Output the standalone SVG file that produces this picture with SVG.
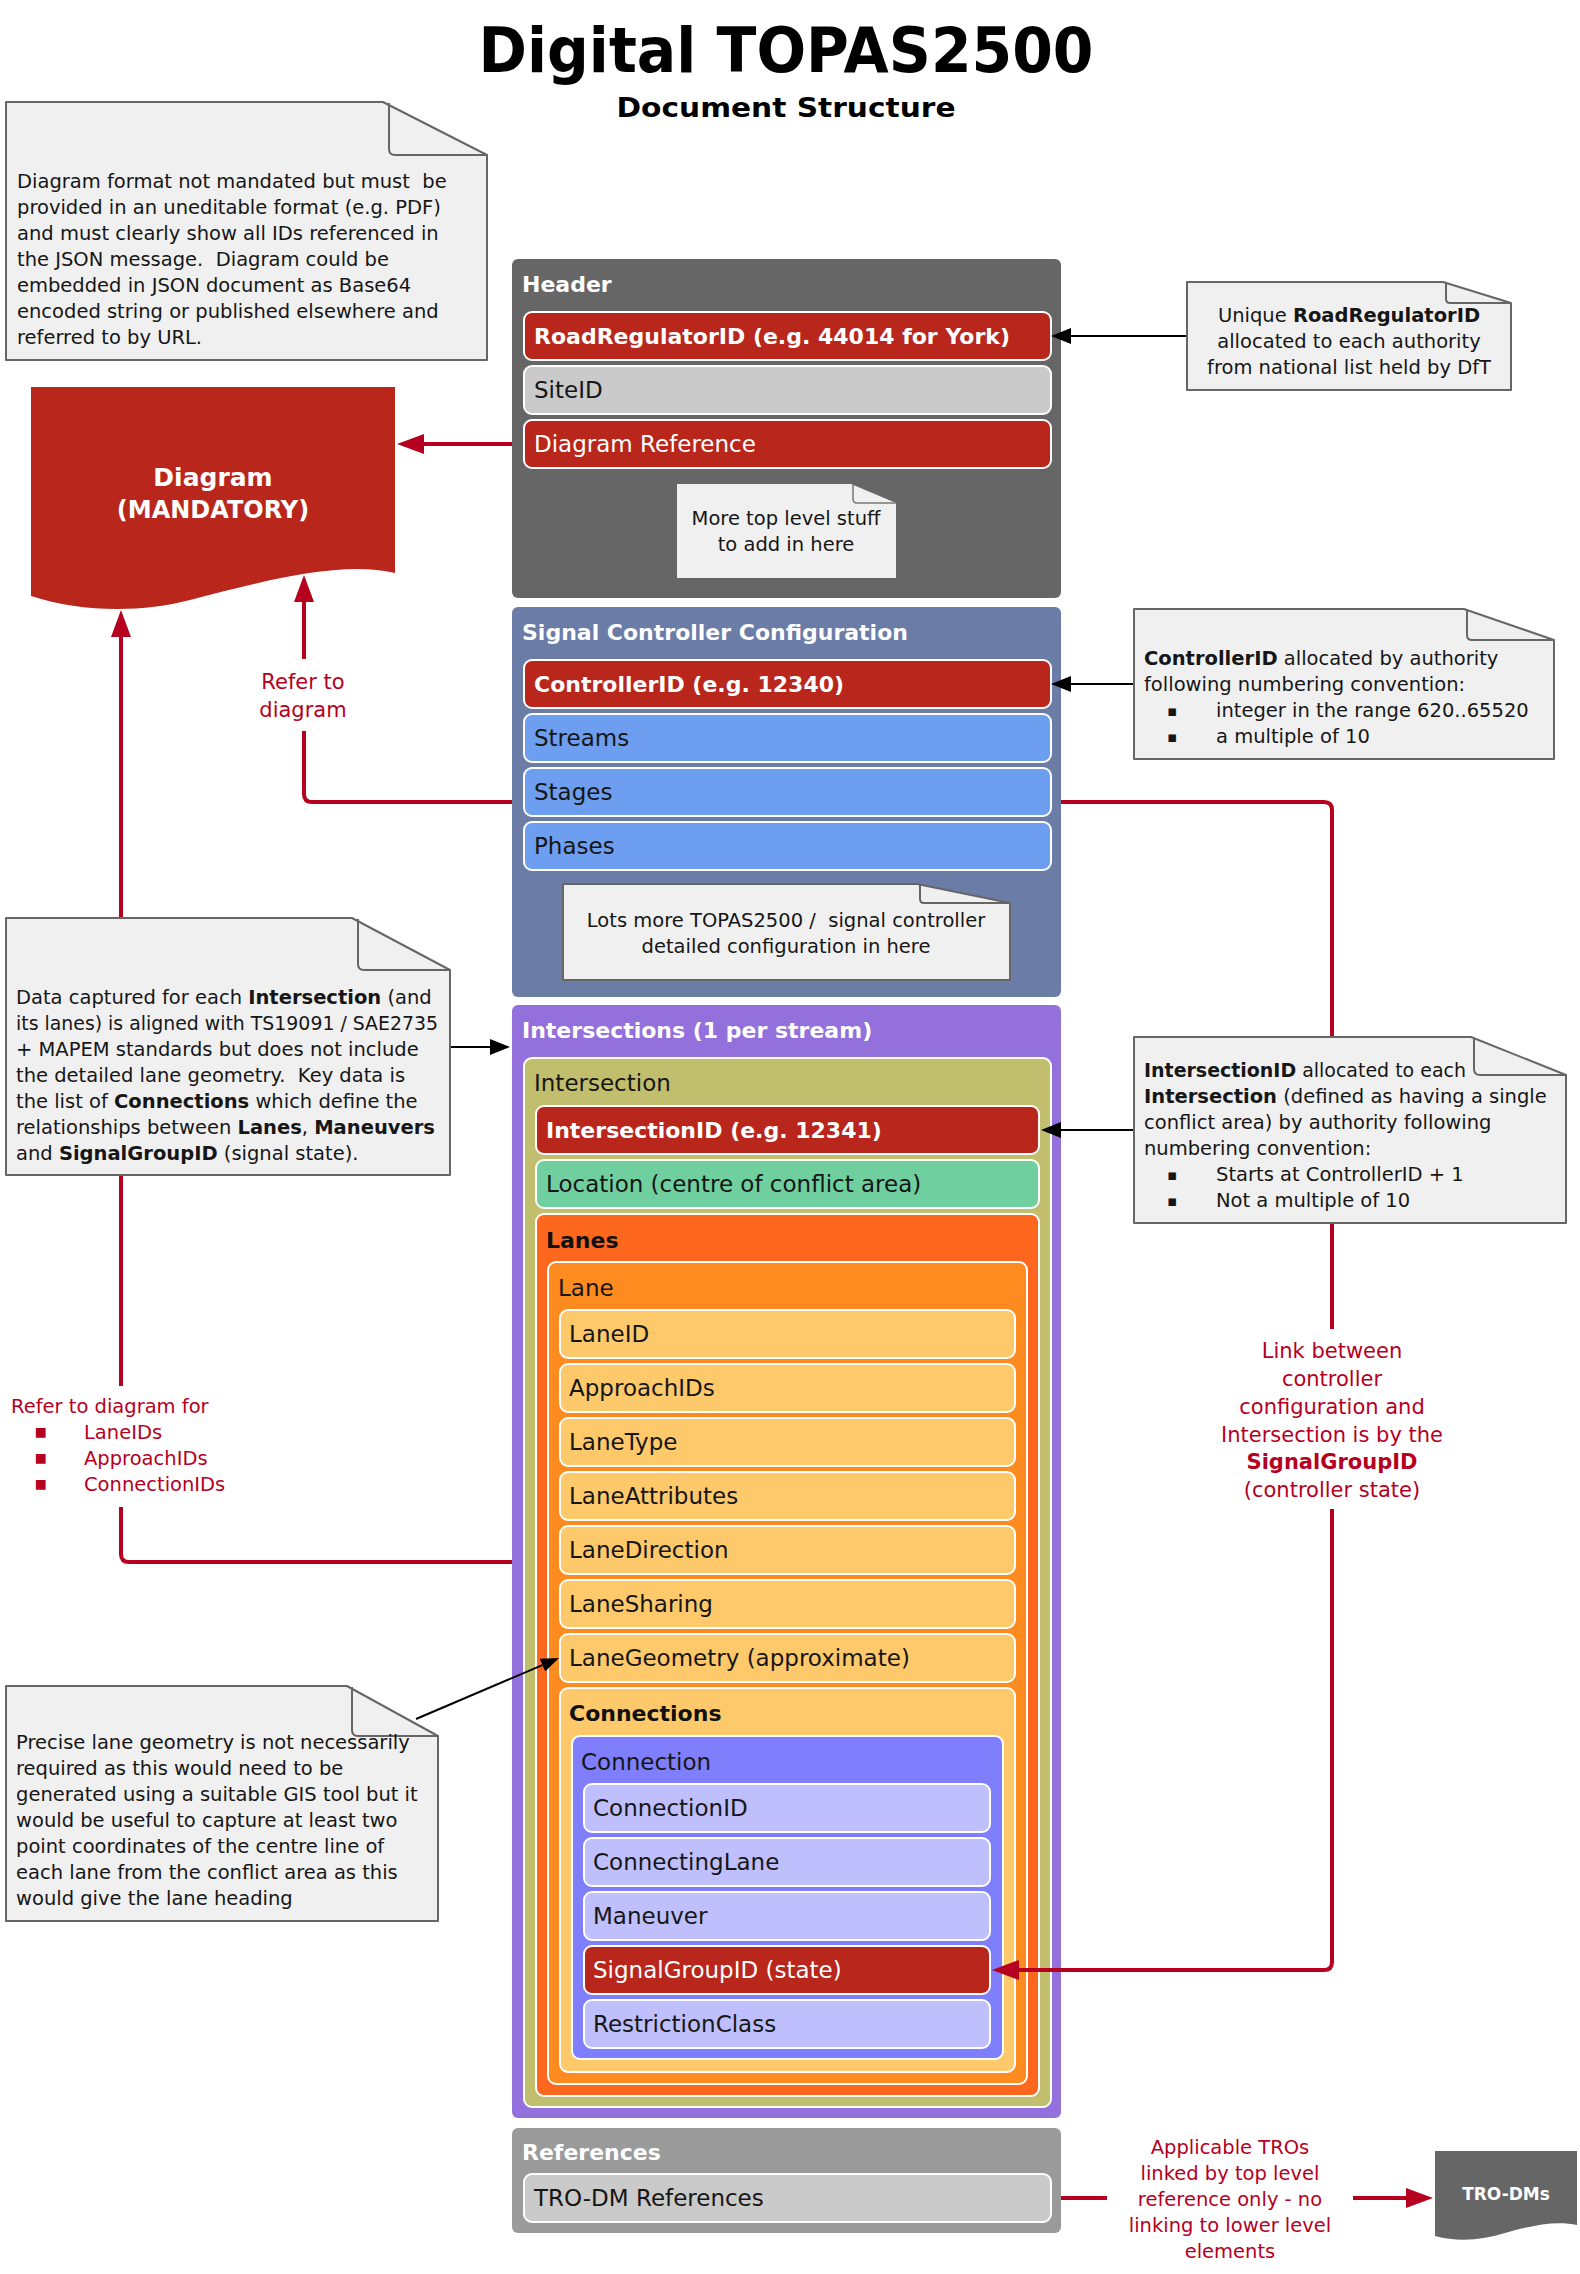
<svg xmlns="http://www.w3.org/2000/svg" width="1580" height="2274" viewBox="0 0 1580 2274">
<style>
text{font-family:"DejaVu Sans","Noto Sans",sans-serif}
.h1{font-size:62px;font-weight:bold;fill:#000}
.h2{font-size:26px;font-weight:bold;fill:#000}
.sec{font-size:22px;font-weight:bold;fill:#fff}
.row{font-size:23px;fill:#161616}
.rowb{font-size:22px;font-weight:bold;fill:#fff}
.roww{font-size:23px;fill:#fff}
.grp{font-size:23px;fill:#161616}
.grpb{font-size:22px;font-weight:bold;fill:#111}
.note{font-size:19.5px;fill:#161616}
.bul{font-size:15px}
.lbl{font-size:21px;fill:#b5001f}
.lbls{font-size:19.5px;fill:#b5001f}
.mid{text-anchor:middle}
.b{font-weight:bold}
.notebox{fill:#f0f0f0;stroke:#666;stroke-width:2;stroke-linejoin:round}
.fold{fill:none;stroke:#666;stroke-width:2}
.inner{stroke:#fff;stroke-width:2}
.redline{fill:none;stroke:#b5001f;stroke-width:4}
.blkline{fill:none;stroke:#000;stroke-width:2}
</style>
<defs>
<marker id="arR" markerUnits="userSpaceOnUse" viewBox="0 0 27 20" markerWidth="27" markerHeight="20" refX="0" refY="10" orient="auto"><path d="M0,0 L27,10 L0,20 Z" fill="#b5001f"/></marker>
<marker id="arK" markerUnits="userSpaceOnUse" viewBox="0 0 20 16" markerWidth="20" markerHeight="16" refX="0" refY="8" orient="auto"><path d="M0,0 L20,8 L0,16 Z" fill="#000"/></marker>
<marker id="arKs" markerUnits="userSpaceOnUse" viewBox="0 0 18 14" markerWidth="18" markerHeight="14" refX="0" refY="7" orient="auto"><path d="M0,0 L18,7 L0,14 Z" fill="#000"/></marker>
</defs>

<g id="title">
<text class="h1 mid" x="786" y="72" textLength="615" lengthAdjust="spacingAndGlyphs">Digital TOPAS2500</text>
<text class="h2 mid" x="786" y="117" textLength="339" lengthAdjust="spacingAndGlyphs">Document Structure</text>
</g>

<g id="diagram">
<path d="M31,387 H395 V573 C340,560 260,582 190,600 C140,613 80,612 31,596 Z" fill="#b9261c"/>
<text class="mid" x="213" y="486" font-size="25" font-weight="bold" fill="#fff">Diagram</text>
<text class="mid" x="213" y="518" font-size="24" font-weight="bold" fill="#fff">(MANDATORY)</text>
</g>

<g id="header">
<rect x="512" y="259" width="549" height="339" rx="6" fill="#666"/>
<text class="sec" x="522" y="292">Header</text>
<rect class="inner" x="524" y="312" width="527" height="48" rx="8" fill="#b9261c"/>
<text class="rowb" x="534" y="344">RoadRegulatorID (e.g. 44014 for York)</text>
<rect class="inner" x="524" y="366" width="527" height="48" rx="8" fill="#cacaca"/>
<text class="row" x="534" y="398">SiteID</text>
<rect class="inner" x="524" y="420" width="527" height="48" rx="8" fill="#b9261c"/>
<text class="roww" x="534" y="452">Diagram Reference</text>
<g id="note-more-top-level">
<path d="M677,484 H851 L896,503 V578 H677 Z" fill="#f0f0f0"/>
<path d="M853,484 V499 Q853,503 857,503 H896" fill="none" stroke="#777" stroke-width="1.5"/>
<text class="note mid" x="786" y="525">More top level stuff</text>
<text class="note mid" x="786" y="551">to add in here</text>
</g>
</g>

<g id="signal-controller">
<rect x="512" y="607" width="549" height="390" rx="6" fill="#6b7ca6"/>
<text class="sec" x="522" y="640">Signal Controller Configuration</text>
<rect class="inner" x="524" y="660" width="527" height="48" rx="8" fill="#b9261c"/>
<text class="rowb" x="534" y="692">ControllerID (e.g. 12340)</text>
<rect class="inner" x="524" y="714" width="527" height="48" rx="8" fill="#6d9eef"/>
<text class="row" x="534" y="746">Streams</text>
<rect class="inner" x="524" y="768" width="527" height="48" rx="8" fill="#6d9eef"/>
<text class="row" x="534" y="800">Stages</text>
<rect class="inner" x="524" y="822" width="527" height="48" rx="8" fill="#6d9eef"/>
<text class="row" x="534" y="854">Phases</text>
<g id="note-lots-more">
<path class="notebox" d="M563,884 H917 L1010,903 V980 H563 Z"/>
<path class="fold" d="M920,885 V899 Q920,903 924,903 H1009"/>
<text class="note mid" x="786" y="927" xml:space="preserve">Lots more TOPAS2500 /  signal controller</text>
<text class="note mid" x="786" y="953">detailed configuration in here</text>
</g>
</g>

<g id="intersections">
<rect x="512" y="1005" width="549" height="1113" rx="6" fill="#9370db"/>
<text class="sec" x="522" y="1038">Intersections (1 per stream)</text>
<g id="intersection">
<rect class="inner" x="524" y="1058" width="527" height="1049" rx="8" fill="#c1bf6d"/>
<text class="grp" x="534" y="1091">Intersection</text>
<rect class="inner" x="536" y="1106" width="503" height="48" rx="8" fill="#b9261c"/>
<text class="rowb" x="546" y="1138">IntersectionID (e.g. 12341)</text>
<rect class="inner" x="536" y="1160" width="503" height="48" rx="8" fill="#6fcf9f"/>
<text class="row" x="546" y="1192">Location (centre of conflict area)</text>
<g id="lanes">
<rect class="inner" x="536" y="1214" width="503" height="882" rx="8" fill="#fd671e"/>
<text class="grpb" x="546" y="1248">Lanes</text>
<g id="lane">
<rect class="inner" x="548" y="1262" width="479" height="822" rx="8" fill="#fe8b1f"/>
<text class="grp" x="558" y="1296">Lane</text>
<rect class="inner" x="560" y="1310" width="455" height="48" rx="8" fill="#fec96a"/>
<text class="row" x="569" y="1342">LaneID</text>
<rect class="inner" x="560" y="1364" width="455" height="48" rx="8" fill="#fec96a"/>
<text class="row" x="569" y="1396">ApproachIDs</text>
<rect class="inner" x="560" y="1418" width="455" height="48" rx="8" fill="#fec96a"/>
<text class="row" x="569" y="1450">LaneType</text>
<rect class="inner" x="560" y="1472" width="455" height="48" rx="8" fill="#fec96a"/>
<text class="row" x="569" y="1504">LaneAttributes</text>
<rect class="inner" x="560" y="1526" width="455" height="48" rx="8" fill="#fec96a"/>
<text class="row" x="569" y="1558">LaneDirection</text>
<rect class="inner" x="560" y="1580" width="455" height="48" rx="8" fill="#fec96a"/>
<text class="row" x="569" y="1612">LaneSharing</text>
<rect class="inner" x="560" y="1634" width="455" height="48" rx="8" fill="#fec96a"/>
<text class="row" x="569" y="1666">LaneGeometry (approximate)</text>
<g id="connections">
<rect class="inner" x="560" y="1688" width="455" height="384" rx="8" fill="#fec96a"/>
<text class="grpb" x="569" y="1721">Connections</text>
<g id="connection">
<rect class="inner" x="572" y="1736" width="431" height="323" rx="8" fill="#7f7ffd"/>
<text class="grp" x="581" y="1770">Connection</text>
<rect class="inner" x="584" y="1784" width="406" height="48" rx="8" fill="#bfbffe"/>
<text class="row" x="593" y="1816">ConnectionID</text>
<rect class="inner" x="584" y="1838" width="406" height="48" rx="8" fill="#bfbffe"/>
<text class="row" x="593" y="1870">ConnectingLane</text>
<rect class="inner" x="584" y="1892" width="406" height="48" rx="8" fill="#bfbffe"/>
<text class="row" x="593" y="1924">Maneuver</text>
<rect class="inner" x="584" y="1946" width="406" height="48" rx="8" fill="#b9261c"/>
<text class="roww" x="593" y="1978">SignalGroupID (state)</text>
<rect class="inner" x="584" y="2000" width="406" height="48" rx="8" fill="#bfbffe"/>
<text class="row" x="593" y="2032">RestrictionClass</text>
</g>
</g>
</g>
</g>
</g>
</g>

<g id="references">
<rect x="512" y="2128" width="549" height="105" rx="6" fill="#9a9a9a"/>
<text class="sec" x="522" y="2160">References</text>
<rect class="inner" x="524" y="2174" width="527" height="48" rx="8" fill="#cacaca"/>
<text class="row" x="534" y="2206">TRO-DM References</text>
</g>

<g id="tro-dms">
<path d="M1435,2151 H1577 V2225 C1555,2220 1530,2226 1505,2233 C1485,2239 1460,2243 1435,2236 Z" fill="#666"/>
<text class="mid" x="1506" y="2200" font-size="17" font-weight="bold" fill="#fff">TRO-DMs</text>
</g>

<g id="connectors">
<path class="redline" d="M512,444 H424" marker-end="url(#arR)"/>
<path class="redline" d="M512,802 H312 Q304,802 304,794 V602" marker-end="url(#arR)"/>
<rect x="252" y="659" width="104" height="72" fill="#fff"/>
<text class="lbl mid" x="303" y="689">Refer to</text>
<text class="lbl mid" x="303" y="717">diagram</text>
<path class="redline" d="M512,1562 H129 Q121,1562 121,1554 V637" marker-end="url(#arR)"/>
<rect x="4" y="1386" width="240" height="121" fill="#fff"/>
<text class="lbls" x="11" y="1413">Refer to diagram for</text>
<text class="lbls bul" x="34" y="1438">▪</text><text class="lbls" x="84" y="1439">LaneIDs</text>
<text class="lbls bul" x="34" y="1464">▪</text><text class="lbls" x="84" y="1465">ApproachIDs</text>
<text class="lbls bul" x="34" y="1490">▪</text><text class="lbls" x="84" y="1491">ConnectionIDs</text>
<path class="redline" d="M1061,802 H1324 Q1332,802 1332,810 V1962 Q1332,1970 1324,1970 H1019" marker-end="url(#arR)"/>
<rect x="1205" y="1329" width="254" height="180" fill="#fff"/>
<text class="lbl mid" x="1332" y="1358">Link between</text>
<text class="lbl mid" x="1332" y="1386">controller</text>
<text class="lbl mid" x="1332" y="1414">configuration and</text>
<text class="lbl mid" x="1332" y="1442">Intersection is by the</text>
<text class="lbl mid b" x="1332" y="1469">SignalGroupID</text>
<text class="lbl mid" x="1332" y="1497">(controller state)</text>
<path class="redline" d="M1061,2198 H1406" marker-end="url(#arR)"/>
<rect x="1107" y="2132" width="246" height="134" fill="#fff"/>
<text class="lbls mid" x="1230" y="2154">Applicable TROs</text>
<text class="lbls mid" x="1230" y="2180">linked by top level</text>
<text class="lbls mid" x="1230" y="2206">reference only - no</text>
<text class="lbls mid" x="1230" y="2232">linking to lower level</text>
<text class="lbls mid" x="1230" y="2258">elements</text>
<path class="blkline" d="M1187,336 H1071" marker-end="url(#arK)"/>
<path class="blkline" d="M1134,684 H1071" marker-end="url(#arK)"/>
<path class="blkline" d="M1134,1130 H1061" marker-end="url(#arK)"/>
<path class="blkline" d="M450,1047 H490" marker-end="url(#arK)"/>
<path class="blkline" d="M416,1719 L542.4,1665.1" marker-end="url(#arKs)"/>
</g>

<g id="note-diagram-format">
<path class="notebox" d="M6,102 H383 L487,155 V360 H6 Z"/>
<path class="fold" d="M389,103 V149 Q389,155 395,155 H486"/>
<text class="note" x="17" y="188" xml:space="preserve">Diagram format not mandated but must  be</text>
<text class="note" x="17" y="214">provided in an uneditable format (e.g. PDF)</text>
<text class="note" x="17" y="240">and must clearly show all IDs referenced in</text>
<text class="note" x="17" y="266" xml:space="preserve">the JSON message.  Diagram could be</text>
<text class="note" x="17" y="292">embedded in JSON document as Base64</text>
<text class="note" x="17" y="318">encoded string or published elsewhere and</text>
<text class="note" x="17" y="344">referred to by URL.</text>
</g>

<g id="note-roadregulator">
<path class="notebox" d="M1187,282 H1443 L1511,303 V390 H1187 Z"/>
<path class="fold" d="M1446,283 V299 Q1446,303 1450,303 H1510"/>
<text class="note mid" x="1349" y="322">Unique <tspan class="b">RoadRegulatorID</tspan></text>
<text class="note mid" x="1349" y="348">allocated to each authority</text>
<text class="note mid" x="1349" y="374">from national list held by DfT</text>
</g>

<g id="note-controllerid">
<path class="notebox" d="M1134,609 H1464 L1554,640 V759 H1134 Z"/>
<path class="fold" d="M1467,610 V635 Q1467,640 1472,640 H1553"/>
<text class="note" x="1144" y="665"><tspan class="b">ControllerID</tspan> allocated by authority</text>
<text class="note" x="1144" y="691">following numbering convention:</text>
<text class="note bul" x="1167" y="716">▪</text><text class="note" x="1216" y="717">integer in the range 620..65520</text>
<text class="note bul" x="1167" y="742">▪</text><text class="note" x="1216" y="743">a multiple of 10</text>
</g>

<g id="note-intersection-data">
<path class="notebox" d="M6,918 H352 L450,970 V1175 H6 Z"/>
<path class="fold" d="M358,919 V964 Q358,970 364,970 H449"/>
<text class="note" x="16" y="1004">Data captured for each <tspan class="b">Intersection</tspan> (and</text>
<text class="note" x="16" y="1030" textLength="422" lengthAdjust="spacingAndGlyphs">its lanes) is aligned with TS19091 / SAE2735</text>
<text class="note" x="16" y="1056">+ MAPEM standards but does not include</text>
<text class="note" x="16" y="1082" xml:space="preserve">the detailed lane geometry.  Key data is</text>
<text class="note" x="16" y="1108">the list of <tspan class="b">Connections</tspan> which define the</text>
<text class="note" x="16" y="1134">relationships between <tspan class="b">Lanes</tspan>, <tspan class="b">Maneuvers</tspan></text>
<text class="note" x="16" y="1160">and <tspan class="b">SignalGroupID</tspan> (signal state).</text>
</g>

<g id="note-intersectionid">
<path class="notebox" d="M1134,1037 H1471 L1566,1075 V1223 H1134 Z"/>
<path class="fold" d="M1474,1038 V1069 Q1474,1075 1480,1075 H1565"/>
<text class="note" x="1144" y="1077" textLength="322" lengthAdjust="spacingAndGlyphs"><tspan class="b">IntersectionID</tspan> allocated to each</text>
<text class="note" x="1144" y="1103"><tspan class="b">Intersection</tspan> (defined as having a single</text>
<text class="note" x="1144" y="1129">conflict area) by authority following</text>
<text class="note" x="1144" y="1155">numbering convention:</text>
<text class="note bul" x="1167" y="1180">▪</text><text class="note" x="1216" y="1181">Starts at ControllerID + 1</text>
<text class="note bul" x="1167" y="1206">▪</text><text class="note" x="1216" y="1207">Not a multiple of 10</text>
</g>

<g id="note-lane-geometry">
<path class="notebox" d="M6,1686 H347 L438,1736 V1921 H6 Z"/>
<path class="fold" d="M352,1687 V1730 Q352,1736 358,1736 H437"/>
<text class="note" x="16" y="1749">Precise lane geometry is not necessarily</text>
<text class="note" x="16" y="1775">required as this would need to be</text>
<text class="note" x="16" y="1801">generated using a suitable GIS tool but it</text>
<text class="note" x="16" y="1827">would be useful to capture at least two</text>
<text class="note" x="16" y="1853">point coordinates of the centre line of</text>
<text class="note" x="16" y="1879">each lane from the conflict area as this</text>
<text class="note" x="16" y="1905">would give the lane heading</text>
</g>
</svg>
